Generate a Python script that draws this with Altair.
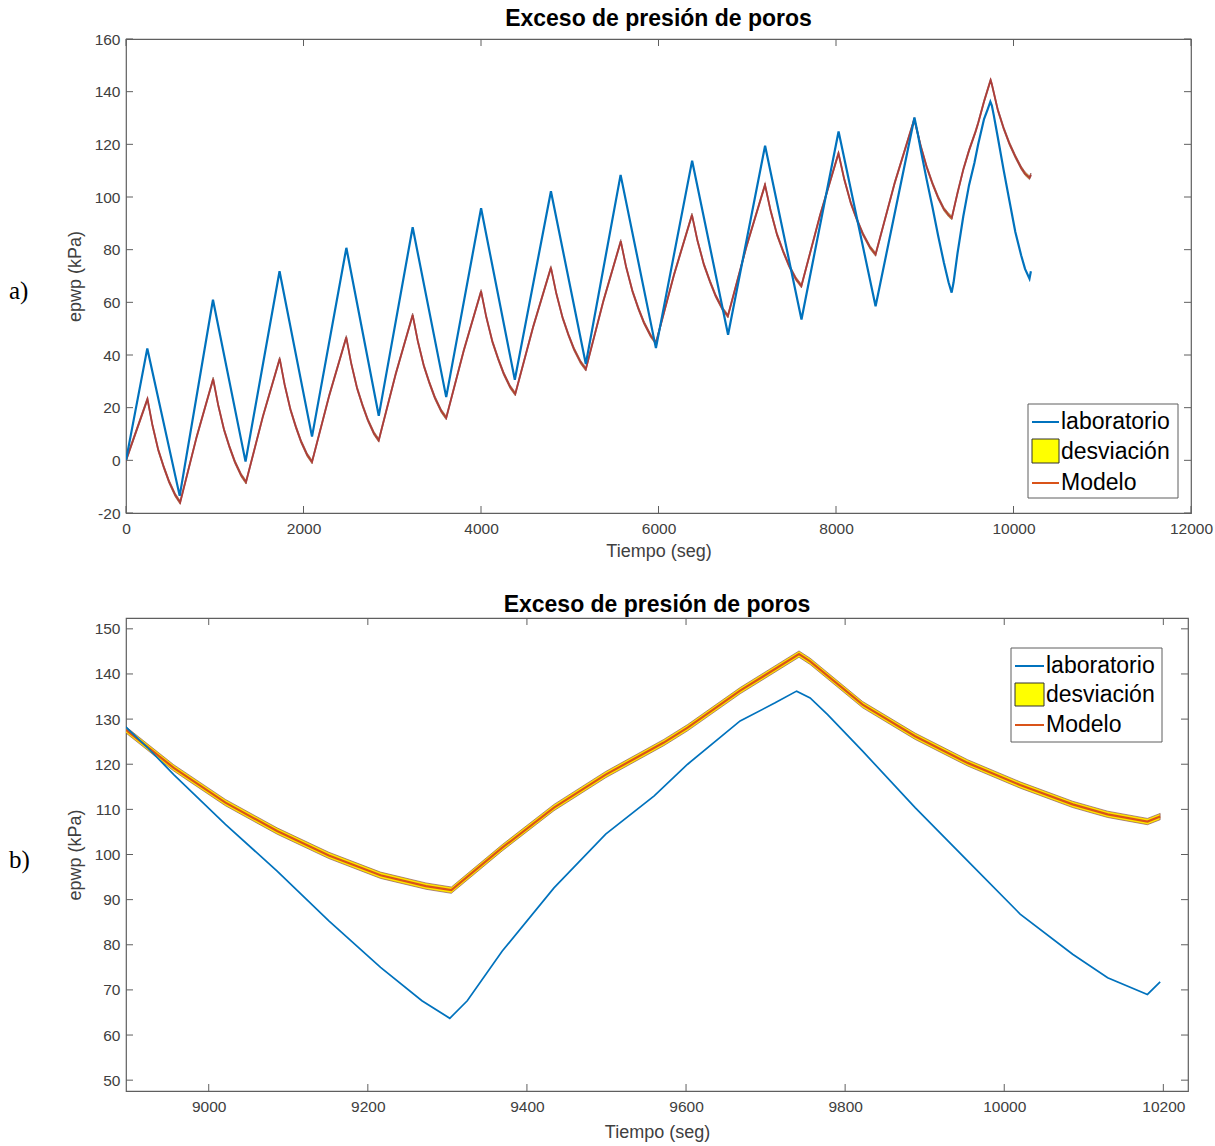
import altair as alt
import pandas as pd

# ---------------- data ----------------
# laboratorio (blue)
lab_t = [0, 240, 605, 980, 1347, 1730, 2096, 2483, 2848, 3230, 3608, 4001, 4381,
         4788, 5181, 5573, 5971, 6379, 6784, 7201, 7611, 8029, 8446, 8884,
         8896, 8923, 8956, 9021, 9086, 9151, 9216, 9268, 9303, 9325, 9369, 9434,
         9499, 9560, 9602, 9668, 9712, 9739, 9756, 9778, 9822, 9888, 9954, 10020,
         10086, 10130, 10180, 10196]
lab_v = [0, 42.5, -13.5, 61.0, -0.5, 71.8, 9.0, 80.7, 16.9, 88.5, 24.0, 95.7, 30.6,
         102.2, 36.6, 108.4, 42.6, 113.8, 47.7, 119.5, 53.5, 124.9, 58.5, 130.2,
         128.2, 123.7, 117.7, 106.7, 96.3, 85.3, 75.0, 67.6, 63.7, 67.6, 78.6, 92.6,
         104.5, 113.0, 120.0, 129.6, 133.6, 136.2, 134.7, 131.0, 122.9, 110.4, 98.6, 86.8,
         77.9, 72.7, 69.0, 71.8]

# Modelo with its desviacion band
mod_t = [0, 242, 297, 363, 426, 485, 555, 610, 796,
         982, 1038, 1104, 1167, 1226, 1297, 1352, 1542,
         1732, 1787, 1852, 1914, 1972, 2041, 2096, 2289,
         2482, 2537, 2603, 2665, 2724, 2793, 2848, 3039,
         3230, 3287, 3355, 3419, 3479, 3551, 3608, 3805,
         4001, 4059, 4128, 4194, 4255, 4328, 4386, 4587,
         4788, 4847, 4918, 4985, 5047, 5122, 5181, 5378,
         5575, 5634, 5706, 5773, 5836, 5912, 5971, 6174,
         6377, 6438, 6511, 6580, 6644, 6721, 6782, 6991,
         7200, 7262, 7335, 7405, 7471, 7549, 7610, 7819,
         8028, 8091, 8166, 8237, 8304, 8383, 8446, 8661,
         8880, 8896, 8956, 9021, 9086, 9151, 9216, 9273, 9305,
         9369, 9434, 9499, 9572, 9602, 9668, 9742, 9756, 9822,
         9888, 9954, 10020, 10086, 10130, 10180, 10196]
mod_v = [0, 23.3, 13.5, 4.0, -2.6, -8.1, -13.2, -16.0, 8.9,
         30.9, 21.1, 11.7, 5.0, -0.5, -5.6, -8.3, 16.6,
         38.6, 28.8, 19.4, 12.7, 7.2, 2.1, -0.6, 24.5,
         46.7, 36.9, 27.5, 20.9, 15.4, 10.3, 7.6, 32.8,
         55.2, 45.4, 36.0, 29.4, 23.9, 18.8, 16.1, 41.6,
         64.2, 54.5, 45.1, 38.5, 33.0, 27.9, 25.2, 50.6,
         73.2, 63.6, 54.3, 47.7, 42.3, 37.3, 34.6, 60.4,
         83.2, 73.6, 64.3, 57.7, 52.3, 47.3, 44.6, 70.4,
         93.2, 83.6, 74.4, 67.9, 62.5, 57.5, 54.8, 81.2,
         104.6, 95.0, 85.8, 79.3, 73.9, 68.9, 66.2, 92.9,
         116.6, 107.0, 97.8, 91.3, 85.9, 80.9, 78.2, 105.3,
         129.3, 127.6, 119.2, 111.5, 105.2, 99.8, 95.4, 93.0, 92.1,
         101.5, 110.4, 117.7, 124.8, 128.1, 136.3, 144.4, 142.8, 133.2,
         126.2, 120.3, 115.4, 111.1, 108.9, 107.3, 108.4]
desv_half = 0.7  # half width of the yellow band (kPa)

legend_labels = ["laboratorio", "desviación", "Modelo"]

top_xticks = [0, 2000, 4000, 6000, 8000, 10000, 12000]
top_yticks = [-20, 0, 20, 40, 60, 80, 100, 120, 140, 160]
bot_xticks = [9000, 9200, 9400, 9600, 9800, 10000, 10200]
bot_yticks = [50, 60, 70, 80, 90, 100, 110, 120, 130, 140, 150]

TITLE = "Exceso de presión de poros"
XTITLE = "Tiempo (seg)"
YTITLE = "epwp (kPa)"

# ---------------- styling ----------------
BLUE = "#0072BD"
ORANGE = "#D95319"
DARKRED = "#AC3D3A"
YELLOW = "#FFE600"
EDGE = "#7a3b55"
FRAME = "#5f5f5f"
TXT = "#404040"
SANS = "Liberation Sans"

lab_df = pd.DataFrame({"t": lab_t, "v": lab_v})
mod_df = pd.DataFrame({"t": mod_t, "v": mod_v})
mod_df["lo"] = mod_df["v"] - desv_half
mod_df["hi"] = mod_df["v"] + desv_half
one = pd.DataFrame({"k": [0]})


def ax(orient, values, title, pad, tpad):
    return alt.Axis(orient=orient, values=values, grid=False, domain=False, ticks=False,
                    labelFont=SANS, labelFontSize=15.5, labelColor=TXT, labelPadding=pad,
                    labelFlush=False, labelOverlap=False, format="d",
                    labelExpr="replace(datum.label, '\u2212', '-')",
                    title=title, titleFont=SANS, titleFontSize=18,
                    titleFontWeight="normal", titleColor=TXT, titlePadding=tpad)


def panel(xdom, ydom, xticks, yticks, W, H, blue_w, mod_w, mod_col, leg, tag, tag_y,
          xtpad):
    xs = alt.Scale(domain=xdom, nice=False, zero=False)
    ys = alt.Scale(domain=ydom, nice=False, zero=False)
    xa = ax("bottom", xticks, XTITLE, 8, xtpad)
    ya = ax("left", yticks, YTITLE, 6, 10)
    X = lambda f: alt.X(f, scale=xs, axis=xa)
    Y = lambda f: alt.Y(f, scale=ys, axis=ya)

    band = alt.Chart(mod_df).mark_area(
        color=YELLOW, stroke=EDGE, strokeWidth=0.6, clip=True
    ).encode(x=X("t:Q"), y=Y("lo:Q"), y2="hi:Q")
    mline = alt.Chart(mod_df).mark_line(color=mod_col, strokeWidth=mod_w, clip=True).encode(
        x=X("t:Q"), y=Y("v:Q"))
    lline = alt.Chart(lab_df).mark_line(color=BLUE, strokeWidth=blue_w, clip=True).encode(
        x=X("t:Q"), y=Y("v:Q"))

    # inward ticks on all four sides, positioned by the scales
    xt = pd.DataFrame({"t": xticks})
    yt = pd.DataFrame({"v": yticks})
    tb = alt.Chart(xt).mark_rule(color=FRAME, strokeWidth=1).encode(
        x=X("t:Q"), y=alt.value(H), y2=alt.value(H - 7))
    tt = alt.Chart(xt).mark_rule(color=FRAME, strokeWidth=1).encode(
        x=X("t:Q"), y=alt.value(0), y2=alt.value(7))
    tl = alt.Chart(yt).mark_rule(color=FRAME, strokeWidth=1).encode(
        y=Y("v:Q"), x=alt.value(0), x2=alt.value(7))
    tr = alt.Chart(yt).mark_rule(color=FRAME, strokeWidth=1).encode(
        y=Y("v:Q"), x=alt.value(W), x2=alt.value(W - 7))

    lx0, lx1, ly0, ly1, rows, sx0, sx1, sq_y0, sq_y1, tx = leg
    box = alt.Chart(one).mark_rect(fill="white", stroke=FRAME, strokeWidth=1).encode(
        x=alt.value(lx0), x2=alt.value(lx1), y=alt.value(ly0), y2=alt.value(ly1))
    s1 = alt.Chart(one).mark_rule(color=BLUE, strokeWidth=2).encode(
        x=alt.value(sx0), x2=alt.value(sx1), y=alt.value(rows[0]), y2=alt.value(rows[0]))
    s2 = alt.Chart(one).mark_rect(fill="#FFFF00", stroke="#333333", strokeWidth=1).encode(
        x=alt.value(sx0), x2=alt.value(sx1), y=alt.value(sq_y0), y2=alt.value(sq_y1))
    s3 = alt.Chart(one).mark_rule(color=ORANGE, strokeWidth=2).encode(
        x=alt.value(sx0), x2=alt.value(sx1), y=alt.value(rows[2]), y2=alt.value(rows[2]))
    texts = [
        alt.Chart(one).mark_text(text=lab, align="left", baseline="middle", font=SANS,
                                 fontSize=23, color="black").encode(
            x=alt.value(tx), y=alt.value(r))
        for lab, r in zip(legend_labels, rows)
    ]
    tagm = alt.Chart(one).mark_text(text=tag, align="left", baseline="middle",
                                    font="Liberation Serif", fontSize=25,
                                    color="black").encode(
        x=alt.value(-117), y=alt.value(tag_y))

    return alt.layer(band, mline, lline, tb, tt, tl, tr, box, s1, s2, s3, *texts,
                     tagm).properties(
        width=W, height=H,
        title=alt.TitleParams(TITLE, fontSize=23, font=SANS, fontWeight="bold",
                              color="black", offset=1, anchor="middle"),
    )


top = panel([0, 12000], [-20, 160], top_xticks, top_yticks, 1065, 474,
            2.2, 1.8, DARKRED,
            (902, 1052, 365, 459, [383, 413, 444], 906, 933, 400, 424, 935),
            "a)", 252, 6)
bottom = panel([8896, 10231], [47.6, 152.4], bot_xticks, bot_yticks, 1062, 473,
               1.7, 2.2, ORANGE,
               (885, 1036, 30, 124, [48, 77, 107], 889, 918, 65, 88, 920),
               "b)", 242, 9)

chart = alt.vconcat(top, bottom, spacing=30).properties(
    padding={"left": 8, "top": 7, "right": 0, "bottom": 0}
).configure_view(stroke=FRAME, strokeWidth=1.2)

chart.save("out.html", embed_options={"renderer": "svg", "actions": False})
